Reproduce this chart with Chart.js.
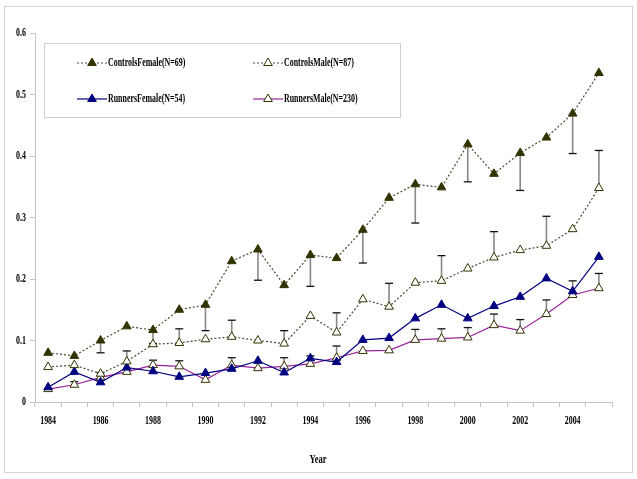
<!DOCTYPE html>
<html><head><meta charset="utf-8">
<script src="https://cdn.jsdelivr.net/npm/chart.js@4/dist/chart.umd.min.js"></script>
<style>html,body{margin:0;padding:0;background:#fff}#wrap{width:637px;height:479px;position:relative}</style>
</head><body><div id="wrap"><canvas id="c" width="637" height="479"></canvas></div>
<script>
const years = ['1984','1985','1986','1987','1988','1989','1990','1991','1992','1993','1994','1995','1996','1997','1998','1999','2000','2001','2002','2003','2004','2005'];
const seriesLabels = ['ControlsFemale(N=69)','ControlsMale(N=87)','RunnersFemale(N=54)','RunnersMale(N=230)'];
const controlsFemale = [0.080,0.075,0.100,0.123,0.117,0.150,0.158,0.229,0.248,0.190,0.239,0.234,0.280,0.332,0.354,0.349,0.419,0.371,0.405,0.430,0.469,0.535];
const controlsFemaleErr = [null,null,0.080,null,0.095,null,0.116,null,0.198,null,0.188,null,0.226,null,0.291,null,0.358,null,0.344,null,0.404,null];
const controlsMale = [0.057,0.060,0.046,0.066,0.094,0.096,0.102,0.106,0.100,0.095,0.140,0.113,0.167,0.155,0.194,0.197,0.217,0.235,0.247,0.254,0.281,0.348];
const controlsMaleErr = [null,null,null,0.083,null,0.119,null,0.133,null,0.116,null,0.145,null,0.193,null,0.238,null,0.277,null,0.302,null,0.409];
const runnersFemale = [0.024,0.049,0.032,0.056,0.050,0.041,0.047,0.054,0.067,0.048,0.071,0.065,0.101,0.104,0.136,0.158,0.136,0.156,0.171,0.201,0.180,0.236];
const runnersMale = [0.021,0.028,0.040,0.049,0.060,0.058,0.036,0.060,0.055,0.058,0.062,0.072,0.083,0.084,0.101,0.103,0.105,0.125,0.116,0.143,0.174,0.185];
const runnersMaleErr = [null,0.033,0.048,null,0.068,0.067,null,0.072,null,0.072,0.075,0.091,null,null,0.118,0.119,0.121,0.143,0.134,0.166,0.197,0.209];
const yTickStep = 0.1;
const xTitle = 'Year';

const FONT = '"Liberation Serif","Times New Roman",serif';
const SX = 0.66;
function condText(ctx, txt, x, y, align, size) {
  ctx.save();
  ctx.font = 'bold ' + size + 'px ' + FONT;
  ctx.textBaseline = 'middle';
  ctx.textAlign = 'left';
  ctx.fillStyle = '#000';
  const w = ctx.measureText(txt).width * SX;
  const x0 = align === 'right' ? x - w : (align === 'center' ? x - w / 2 : x);
  ctx.translate(x0, y);
  ctx.scale(SX, 1);
  ctx.fillText(txt, 0, 0);
  ctx.restore();
}
function tri(ctx, x, y, r, fill, stroke) {
  ctx.save();
  ctx.beginPath();
  ctx.moveTo(x, y - r);
  ctx.lineTo(x + r * 0.866, y + r * 0.5);
  ctx.lineTo(x - r * 0.866, y + r * 0.5);
  ctx.closePath();
  ctx.fillStyle = fill; ctx.fill();
  ctx.strokeStyle = stroke; ctx.lineWidth = 1; ctx.stroke();
  ctx.restore();
}

const styles = [
  {line:'#4a4a30', fill:'#333300', stroke:'#333300', dash:[2,2]},
  {line:'#4a4a30', fill:'#ffffff', stroke:'#333300', dash:[2,2]},
  {line:'#000080', fill:'#000080', stroke:'#000080', dash:[]},
  {line:'#992299', fill:'#ffffff', stroke:'#333300', dash:[]}
];
const seriesData = [controlsFemale, controlsMale, runnersFemale, runnersMale];
const errData = [controlsFemaleErr, controlsMaleErr, null, runnersMaleErr];

const datasets = seriesData.map((d, i) => ({
  label: seriesLabels[i],
  data: d,
  borderColor: styles[i].line,
  borderWidth: 1.2,
  borderDash: styles[i].dash,
  backgroundColor: styles[i].fill,
  pointStyle: 'triangle',
  pointRadius: 5,
  pointBackgroundColor: styles[i].fill,
  pointBorderColor: styles[i].stroke,
  pointBorderWidth: 1,
  tension: 0,
  fill: false
}));

const errPlugin = {
  id: 'errbars',
  beforeDatasetsDraw(chart) {
    const xs = chart.scales.x, ys = chart.scales.y, ctx = chart.ctx;
    errData.forEach((ends, di) => {
      if (!ends) return;
      const vals = chart.data.datasets[di].data;
      ends.forEach((e, i) => {
        if (e == null) return;
        const px = xs.getPixelForValue(i);
        const p0 = ys.getPixelForValue(vals[i]);
        const p1 = ys.getPixelForValue(e);
        ctx.save();
        ctx.strokeStyle = '#888888'; ctx.lineWidth = 1.6;
        ctx.beginPath(); ctx.moveTo(px, p0); ctx.lineTo(px, p1); ctx.stroke();
        ctx.strokeStyle = '#111'; ctx.lineWidth = 1.3;
        ctx.beginPath(); ctx.moveTo(px - 4, p1); ctx.lineTo(px + 4, p1); ctx.stroke();
        ctx.restore();
      });
    });
  }
};

const decoPlugin = {
  id: 'deco',
  afterDraw(chart) {
    const ctx = chart.ctx, xs = chart.scales.x, ys = chart.scales.y;
    ctx.save();
    ctx.strokeStyle = '#d4d4d4'; ctx.lineWidth = 1;
    ctx.strokeRect(4.5, 6.5, 628, 466);
    ctx.restore();
    xs.ticks.forEach((t, i) => {
      if (t.label) condText(ctx, t.label, xs.getPixelForTick(i), 421, 'center', 12);
    });
    ys.ticks.forEach((t, i) => {
      condText(ctx, String(t.label), 26, ys.getPixelForTick(i), 'right', 12);
    });
    condText(ctx, xTitle, 318, 460, 'center', 13);
    ctx.save();
    ctx.strokeStyle = '#d0d0d0'; ctx.lineWidth = 1;
    ctx.strokeRect(44.5, 43.5, 356, 74);
    ctx.restore();
    const pos = [[77, 63], [253, 63], [77, 99], [253, 99]];
    chart.data.datasets.forEach((ds, i) => {
      const [lx, ly] = pos[i];
      ctx.save();
      ctx.strokeStyle = styles[i].line; ctx.lineWidth = 1.2;
      ctx.setLineDash(styles[i].dash);
      ctx.beginPath(); ctx.moveTo(lx, ly); ctx.lineTo(lx + 30, ly); ctx.stroke();
      ctx.restore();
      tri(ctx, lx + 15, ly, 5, styles[i].fill, styles[i].stroke);
      condText(ctx, ds.label, lx + 31, ly, 'left', 12);
    });
  }
};

new Chart(document.getElementById('c'), {
  type: 'line',
  data: { labels: years, datasets: datasets },
  options: {
    responsive: false,
    animation: false,
    events: [],
    layout: { padding: { left: 5, right: 25, top: 33, bottom: 7 } },
    plugins: { legend: { display: false }, tooltip: { enabled: false } },
    scales: {
      x: {
        type: 'category',
        offset: true,
        grid: { offset: true, drawOnChartArea: false, drawTicks: true, tickLength: 5, color: '#c4c4c4' },
        border: { color: '#c4c4c4' },
        ticks: { autoSkip: false, maxRotation: 0, color: 'rgba(0,0,0,0)', font: { size: 11 },
          callback: (v, i) => (i % 2 === 0 ? years[i] : '') },
        afterFit: s => { s.height = 70; }
      },
      y: {
        min: 0, max: 0.6,
        grid: { drawOnChartArea: false, drawTicks: true, tickLength: 5, color: '#c4c4c4' },
        border: { color: '#c4c4c4' },
        ticks: { stepSize: yTickStep, color: 'rgba(0,0,0,0)', font: { size: 11 },
          callback: v => String(+v.toFixed(1)) },
        afterFit: s => { s.width = 30; }
      }
    }
  },
  plugins: [errPlugin, decoPlugin]
});
</script>
</body></html>
